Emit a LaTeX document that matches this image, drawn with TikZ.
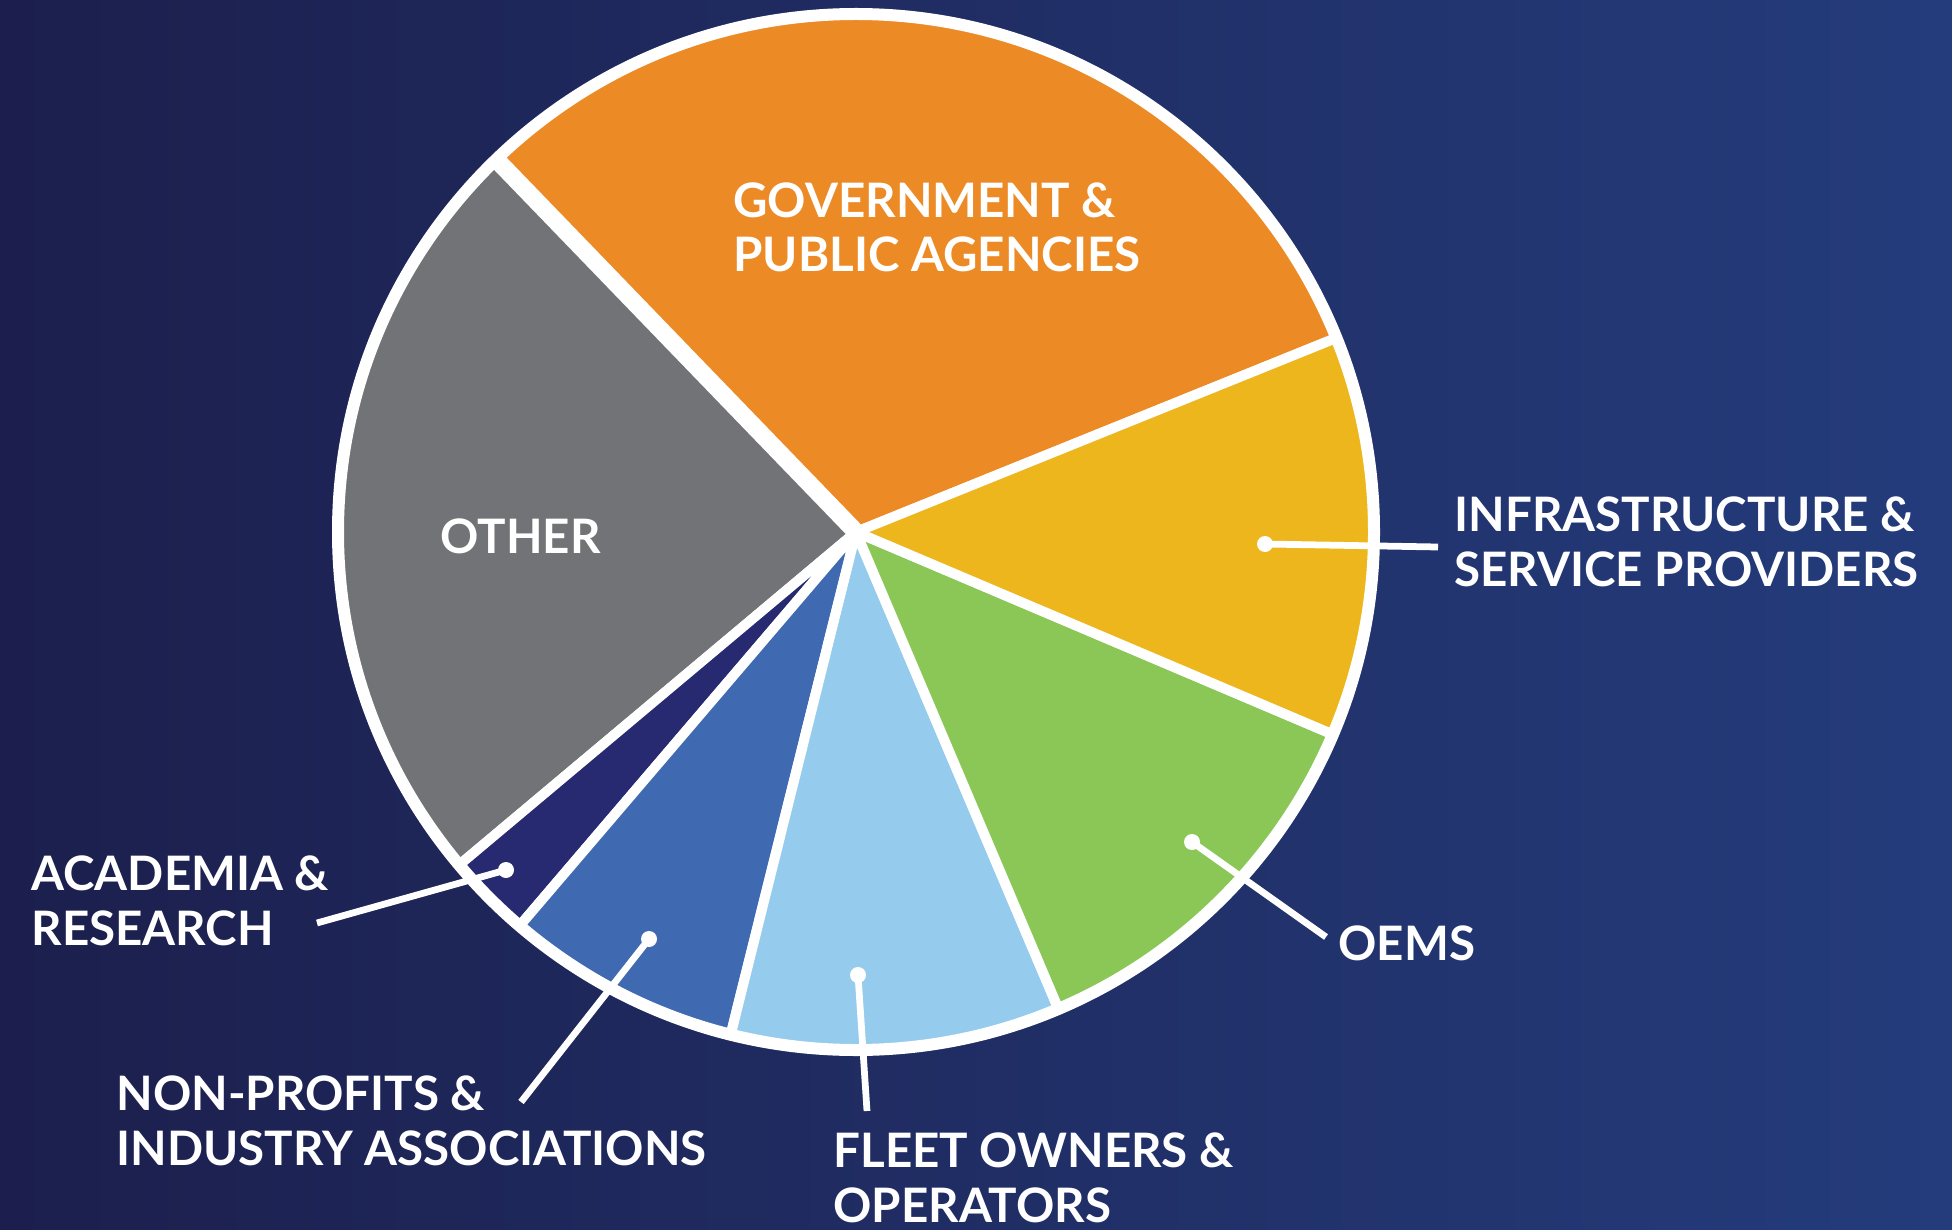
\documentclass[tikz,border=0pt]{standalone}
\usepackage{fontspec}
\setmainfont{Lato}
\definecolor{bgleft}{HTML}{1C1F4D}
\definecolor{bgright}{HTML}{243C7C}
\definecolor{govorange}{HTML}{EC8A25}
\definecolor{othergray}{HTML}{727376}
\definecolor{academianavy}{HTML}{272A70}
\definecolor{nonprofitblue}{HTML}{3F6AB2}
\definecolor{fleetblue}{HTML}{95CBEC}
\definecolor{oemgreen}{HTML}{8BC757}
\definecolor{infrayellow}{HTML}{ECB61C}
\begin{document}
\begin{tikzpicture}[x=0.4pt,y=0.4pt]
      \tikzstyle{every node}=[text=white,font=\bfseries\fontsize{19}{21.8}\selectfont,align=left,inner sep=0pt]
      \tikzstyle{pindot}=[circle,fill=white,minimum size=6.4pt]
      \tikzstyle{callout}=[white,line width=2.7pt]
      \tikzstyle{slice}=[draw=white,line width=4pt,line join=round]
      \path[use as bounding box,left color=bgleft,right color=bgright] (0,0) rectangle (1952,1229);

      \coordinate (c) at (856,697);
      \filldraw[slice,fill=govorange] (c) -- +(22:518) arc[start angle=22,end angle=134,radius=518] -- cycle;
      \filldraw[slice,fill=othergray] (c) -- +(134:518) arc[start angle=134,end angle=220,radius=518] -- cycle;
      \filldraw[slice,fill=academianavy] (c) -- +(220:518) arc[start angle=220,end angle=229.5,radius=518] -- cycle;
      \filldraw[slice,fill=nonprofitblue] (c) -- +(229.5:518) arc[start angle=229.5,end angle=256,radius=518] -- cycle;
      \filldraw[slice,fill=fleetblue] (c) -- +(256:518) arc[start angle=256,end angle=293,radius=518] -- cycle;
      \filldraw[slice,fill=oemgreen] (c) -- +(293:518) arc[start angle=293,end angle=337,radius=518] -- cycle;
      \filldraw[slice,fill=infrayellow] (c) -- +(337:518) arc[start angle=337,end angle=382,radius=518] -- cycle;
      \draw[white,line width=7pt] (c) -- +(134:518);
      \draw[white,line width=4.8pt] (c) circle[radius=518];

      \node[anchor=base west] (gov) at (733,957) {GOVERNMENT \&\\PUBLIC AGENCIES};
      \node[anchor=base west] (other) at (440,676) {OTHER};
      \node[anchor=base west] (infra) at (1454,643) {INFRASTRUCTURE \&\\SERVICE PROVIDERS};
      \node[anchor=base west] (oems) at (1338,269) {OEMS};
      \node[anchor=base west] (fleet) at (833,7) {FLEET OWNERS \&\\OPERATORS};
      \node[anchor=base west] (nonprofit) at (116,64) {NON-PROFITS \&\\INDUSTRY ASSOCIATIONS};
      \node[anchor=base west] (academia) at (31,284) {ACADEMIA \&\\RESEARCH};

      \node[pindot] (d1) at (1265,685) {};
      \node[pindot] (d2) at (1192,387) {};
      \node[pindot] (d3) at (858,254) {};
      \node[pindot] (d4) at (649,290) {};
      \node[pindot] (d5) at (506,359) {};
      \coordinate (e1) at (1438,682);
      \coordinate (e2) at (1326,292);
      \coordinate (e3) at (867,118);
      \coordinate (e4) at (521,127);
      \coordinate (e5) at (317,306);

      \draw[callout] (d1.center) -- (e1);
      \draw[callout] (d2.center) -- (e2);
      \draw[callout] (d3.center) -- (e3);
      \draw[callout] (d4.center) -- (e4);
      \draw[callout] (d5.center) -- (e5);
    \end{tikzpicture}
\end{document}
